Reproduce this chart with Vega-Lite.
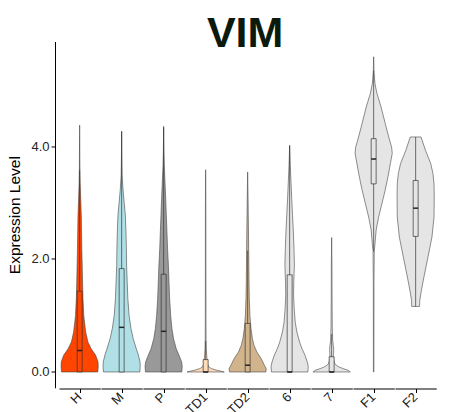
{
  "$schema": "https://vega.github.io/schema/vega-lite/v6.json",
  "padding": {"left": 7, "top": 12.5, "right": 5, "bottom": 0},
  "title": {"text": "VIM", "fontSize": 43, "font": "Liberation Sans", "fontWeight": "bold", "color": "#0b1a0b", "anchor": "middle", "frame": "bounds", "dx": 23, "offset": -14},
  "data": {"values": [
    {"g": "H", "v": 0, "d": 0.88}, {"g": "H", "v": 0.1, "d": 0.9}, {"g": "H", "v": 0.18, "d": 0.89}, {"g": "H", "v": 0.3, "d": 0.77}, {"g": "H", "v": 0.41, "d": 0.56}, {"g": "H", "v": 0.53, "d": 0.4}, {"g": "H", "v": 0.71, "d": 0.29}, {"g": "H", "v": 1.0, "d": 0.2}, {"g": "H", "v": 1.3, "d": 0.16}, {"g": "H", "v": 1.59, "d": 0.14}, {"g": "H", "v": 2.18, "d": 0.105}, {"g": "H", "v": 2.77, "d": 0.08}, {"g": "H", "v": 3.07, "d": 0.05}, {"g": "H", "v": 3.36, "d": 0.024}, {"g": "H", "v": 3.66, "d": 0.012}, {"g": "H", "v": 4.37, "d": 0},
    {"g": "M", "v": 0, "d": 0.88}, {"g": "M", "v": 0.1, "d": 0.9}, {"g": "M", "v": 0.18, "d": 0.89}, {"g": "M", "v": 0.3, "d": 0.81}, {"g": "M", "v": 0.41, "d": 0.71}, {"g": "M", "v": 0.59, "d": 0.56}, {"g": "M", "v": 0.77, "d": 0.45}, {"g": "M", "v": 1.0, "d": 0.36}, {"g": "M", "v": 1.3, "d": 0.3}, {"g": "M", "v": 1.59, "d": 0.27}, {"g": "M", "v": 1.89, "d": 0.24}, {"g": "M", "v": 2.18, "d": 0.23}, {"g": "M", "v": 2.48, "d": 0.21}, {"g": "M", "v": 2.77, "d": 0.18}, {"g": "M", "v": 3.01, "d": 0.12}, {"g": "M", "v": 3.24, "d": 0.065}, {"g": "M", "v": 3.48, "d": 0.024}, {"g": "M", "v": 3.8, "d": 0.01}, {"g": "M", "v": 4.26, "d": 0},
    {"g": "P", "v": 0, "d": 0.88}, {"g": "P", "v": 0.1, "d": 0.9}, {"g": "P", "v": 0.18, "d": 0.87}, {"g": "P", "v": 0.3, "d": 0.74}, {"g": "P", "v": 0.41, "d": 0.61}, {"g": "P", "v": 0.59, "d": 0.48}, {"g": "P", "v": 0.77, "d": 0.4}, {"g": "P", "v": 1.0, "d": 0.34}, {"g": "P", "v": 1.3, "d": 0.29}, {"g": "P", "v": 1.59, "d": 0.26}, {"g": "P", "v": 1.89, "d": 0.23}, {"g": "P", "v": 2.18, "d": 0.19}, {"g": "P", "v": 2.48, "d": 0.16}, {"g": "P", "v": 2.77, "d": 0.13}, {"g": "P", "v": 3.07, "d": 0.1}, {"g": "P", "v": 3.36, "d": 0.065}, {"g": "P", "v": 3.66, "d": 0.03}, {"g": "P", "v": 3.95, "d": 0.012}, {"g": "P", "v": 4.35, "d": 0},
    {"g": "TD1", "v": 0, "d": 0.9}, {"g": "TD1", "v": 0.03, "d": 0.55}, {"g": "TD1", "v": 0.06, "d": 0.28}, {"g": "TD1", "v": 0.09, "d": 0.15}, {"g": "TD1", "v": 0.15, "d": 0.08}, {"g": "TD1", "v": 0.3, "d": 0.05}, {"g": "TD1", "v": 0.41, "d": 0.03}, {"g": "TD1", "v": 0.6, "d": 0.02}, {"g": "TD1", "v": 1.0, "d": 0.015}, {"g": "TD1", "v": 2.0, "d": 0.012}, {"g": "TD1", "v": 3.0, "d": 0.01}, {"g": "TD1", "v": 3.58, "d": 0},
    {"g": "TD2", "v": 0, "d": 0.88}, {"g": "TD2", "v": 0.06, "d": 0.9}, {"g": "TD2", "v": 0.12, "d": 0.81}, {"g": "TD2", "v": 0.24, "d": 0.65}, {"g": "TD2", "v": 0.35, "d": 0.45}, {"g": "TD2", "v": 0.47, "d": 0.31}, {"g": "TD2", "v": 0.59, "d": 0.23}, {"g": "TD2", "v": 0.77, "d": 0.16}, {"g": "TD2", "v": 1.0, "d": 0.11}, {"g": "TD2", "v": 1.3, "d": 0.08}, {"g": "TD2", "v": 1.59, "d": 0.065}, {"g": "TD2", "v": 2.18, "d": 0.05}, {"g": "TD2", "v": 2.77, "d": 0.03}, {"g": "TD2", "v": 3.07, "d": 0.02}, {"g": "TD2", "v": 3.54, "d": 0},
    {"g": "6", "v": 0, "d": 0.88}, {"g": "6", "v": 0.1, "d": 0.9}, {"g": "6", "v": 0.18, "d": 0.85}, {"g": "6", "v": 0.3, "d": 0.74}, {"g": "6", "v": 0.41, "d": 0.6}, {"g": "6", "v": 0.53, "d": 0.48}, {"g": "6", "v": 0.71, "d": 0.35}, {"g": "6", "v": 0.88, "d": 0.27}, {"g": "6", "v": 1.12, "d": 0.22}, {"g": "6", "v": 1.36, "d": 0.19}, {"g": "6", "v": 1.59, "d": 0.2}, {"g": "6", "v": 1.89, "d": 0.23}, {"g": "6", "v": 2.18, "d": 0.21}, {"g": "6", "v": 2.48, "d": 0.18}, {"g": "6", "v": 2.77, "d": 0.14}, {"g": "6", "v": 3.07, "d": 0.1}, {"g": "6", "v": 3.36, "d": 0.065}, {"g": "6", "v": 3.66, "d": 0.03}, {"g": "6", "v": 4.01, "d": 0},
    {"g": "7", "v": 0, "d": 0.9}, {"g": "7", "v": 0.03, "d": 0.8}, {"g": "7", "v": 0.06, "d": 0.55}, {"g": "7", "v": 0.09, "d": 0.35}, {"g": "7", "v": 0.12, "d": 0.22}, {"g": "7", "v": 0.15, "d": 0.15}, {"g": "7", "v": 0.21, "d": 0.1}, {"g": "7", "v": 0.27, "d": 0.08}, {"g": "7", "v": 0.33, "d": 0.09}, {"g": "7", "v": 0.4, "d": 0.1}, {"g": "7", "v": 0.47, "d": 0.08}, {"g": "7", "v": 0.56, "d": 0.05}, {"g": "7", "v": 0.8, "d": 0.03}, {"g": "7", "v": 1.27, "d": 0.02}, {"g": "7", "v": 1.86, "d": 0.015}, {"g": "7", "v": 2.38, "d": 0},
    {"g": "F1", "v": 0, "d": 0.012}, {"g": "F1", "v": 1.56, "d": 0.015}, {"g": "F1", "v": 2.15, "d": 0.03}, {"g": "F1", "v": 2.27, "d": 0.065}, {"g": "F1", "v": 2.51, "d": 0.12}, {"g": "F1", "v": 2.74, "d": 0.24}, {"g": "F1", "v": 2.98, "d": 0.4}, {"g": "F1", "v": 3.22, "d": 0.56}, {"g": "F1", "v": 3.45, "d": 0.69}, {"g": "F1", "v": 3.69, "d": 0.81}, {"g": "F1", "v": 3.87, "d": 0.9}, {"g": "F1", "v": 3.98, "d": 0.87}, {"g": "F1", "v": 4.16, "d": 0.73}, {"g": "F1", "v": 4.4, "d": 0.56}, {"g": "F1", "v": 4.69, "d": 0.36}, {"g": "F1", "v": 4.93, "d": 0.16}, {"g": "F1", "v": 5.1, "d": 0.065}, {"g": "F1", "v": 5.3, "d": 0.02}, {"g": "F1", "v": 5.58, "d": 0},
    {"g": "F2", "v": 1.16, "d": 0.19}, {"g": "F2", "v": 1.27, "d": 0.2}, {"g": "F2", "v": 1.45, "d": 0.28}, {"g": "F2", "v": 1.68, "d": 0.4}, {"g": "F2", "v": 2.04, "d": 0.6}, {"g": "F2", "v": 2.39, "d": 0.79}, {"g": "F2", "v": 2.74, "d": 0.89}, {"g": "F2", "v": 3.1, "d": 0.9}, {"g": "F2", "v": 3.33, "d": 0.89}, {"g": "F2", "v": 3.51, "d": 0.84}, {"g": "F2", "v": 3.69, "d": 0.73}, {"g": "F2", "v": 3.92, "d": 0.48}, {"g": "F2", "v": 4.16, "d": 0.26},
    {"g": "H", "lo": 0, "q1": 0, "med": 0.38, "q3": 1.43, "hi": 3.57},
    {"g": "M", "lo": 0, "q1": 0, "med": 0.79, "q3": 1.83, "hi": 4.26},
    {"g": "P", "lo": 0, "q1": 0, "med": 0.72, "q3": 1.73, "hi": 4.33},
    {"g": "TD1", "lo": 0, "q1": 0, "med": 0.0, "q3": 0.22, "hi": 0.55},
    {"g": "TD2", "lo": 0, "q1": 0, "med": 0.12, "q3": 0.86, "hi": 2.15},
    {"g": "6", "lo": 0, "q1": 0, "med": 0, "q3": 1.72, "hi": 4.01},
    {"g": "7", "lo": 0, "q1": 0, "med": 0, "q3": 0.27, "hi": 0.67},
    {"g": "F1", "lo": 2.13, "q1": 3.33, "med": 3.77, "q3": 4.13, "hi": 5.33},
    {"g": "F2", "lo": 1.16, "q1": 2.4, "med": 2.9, "q3": 3.39, "hi": 4.16}
  ]},
  "facet": {"column": {"field": "g", "type": "nominal", "sort": ["H", "M", "P", "TD1", "TD2", "6", "7", "F1", "F2"], "title": null,
    "header": {"labelOrient": "bottom", "labelAngle": -45, "labelAlign": "right", "labelBaseline": "middle", "labelFontSize": 13, "labelColor": "#1a1a1a", "labelFont": "Liberation Sans", "labelPadding": 2}}},
  "spacing": 0,
  "spec": {
    "width": 41.3,
    "height": 346.3,
    "layer": [
      {
        "transform": [{"filter": {"field": "d", "valid": true}}],
        "mark": {"type": "area", "orient": "horizontal", "stroke": "#444444", "strokeWidth": 0.6, "opacity": 1},
        "encoding": {
          "y": {"field": "v", "type": "quantitative", "title": "Expression Level",
            "scale": {"domain": [-0.28, 5.85], "nice": false, "zero": false},
            "axis": {"values": [0, 2, 4], "format": ".1f", "grid": false, "offset": 4, "labelFontSize": 13, "labelColor": "#222222", "labelFont": "Liberation Sans", "labelPadding": 2, "titleFontSize": 15.5, "titleFontWeight": "normal", "titleColor": "#000000", "titleFont": "Liberation Sans", "titlePadding": 8, "tickSize": 4, "tickColor": "#000000", "domainColor": "#000000"}},
          "x": {"field": "d", "type": "quantitative", "stack": "center", "impute": null, "title": null,
            "scale": {"domain": [-0.05, 0.95], "nice": false, "zero": false},
            "axis": {"values": [0.45], "labels": false, "title": null, "grid": false, "tickSize": 4, "tickColor": "#000000", "domainColor": "#000000"}},
          "color": {"field": "g", "type": "nominal", "legend": null,
            "scale": {"domain": ["H", "M", "P", "TD1", "TD2", "6", "7", "F1", "F2"], "range": ["#FF4500", "#B0E0E6", "#999999", "#FFDAB9", "#D2B48C", "#E5E5E5", "#E5E5E5", "#E5E5E5", "#E5E5E5"]}}
        }
      },
      {
        "transform": [{"filter": {"field": "med", "valid": true}}],
        "mark": {"type": "rule", "color": "#333333", "strokeWidth": 0.7},
        "encoding": {
          "x": {"datum": 0.45, "type": "quantitative", "title": null},
          "y": {"field": "lo", "type": "quantitative", "title": "Expression Level"},
          "y2": {"field": "hi"}
        }
      },
      {
        "transform": [{"filter": {"field": "med", "valid": true}}],
        "mark": {"type": "rect", "stroke": "#333333", "strokeWidth": 0.7, "opacity": 1},
        "encoding": {
          "x": {"datum": 0.39, "type": "quantitative", "title": null},
          "x2": {"datum": 0.51},
          "y": {"field": "q1", "type": "quantitative", "title": "Expression Level"},
          "y2": {"field": "q3"},
          "color": {"field": "g", "type": "nominal", "legend": null}
        }
      },
      {
        "transform": [{"filter": {"field": "med", "valid": true}}],
        "mark": {"type": "rule", "color": "#222222", "strokeWidth": 1.5},
        "encoding": {
          "x": {"datum": 0.39, "type": "quantitative", "title": null},
          "x2": {"datum": 0.51},
          "y": {"field": "med", "type": "quantitative", "title": "Expression Level"}
        }
      }
    ]
  },
  "config": {
    "view": {"stroke": null},
    "font": "Liberation Sans"
  }
}
